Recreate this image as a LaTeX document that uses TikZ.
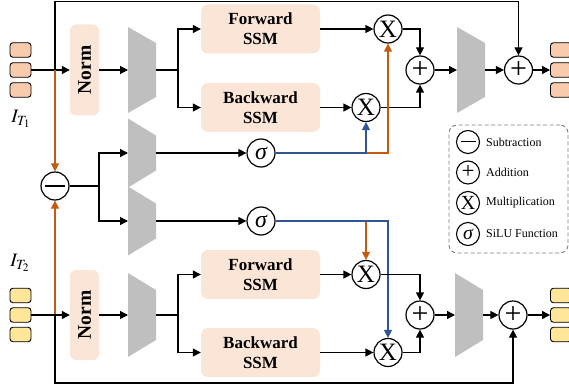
\documentclass[tikz,border=0pt]{standalone}
\usepackage{mathptmx}
\usepackage{fontspec}
\setmainfont{Liberation Serif}
\usetikzlibrary{arrows.meta}
\definecolor{peach}{HTML}{FBE5D6}
\definecolor{sqA}{HTML}{F8CBAD}
\definecolor{sqB}{HTML}{FFE699}
\definecolor{trapgray}{HTML}{BFBFBF}
\definecolor{orng}{HTML}{C55A11}
\definecolor{blu}{HTML}{2F5597}
\definecolor{lgray}{HTML}{7F7F7F}
\begin{document}
\begin{tikzpicture}[x=1pt,y=-1pt,
  ln/.style={line width=1.2pt, draw=black},
  arr/.style={ln, -{Triangle[length=8pt,width=8pt]}},
  oarr/.style={arr, draw=orng},
  barr/.style={arr, draw=blu},
  sq/.style={draw, line width=0.9pt, rounded corners=3pt, minimum width=21pt, minimum height=14.5pt, inner sep=0pt},
  ssm/.style={fill=peach, rounded corners=7pt, minimum width=119pt, minimum height=49pt, align=center, inner sep=0pt, font=\fontsize{17}{20}\selectfont\bfseries},
  normb/.style={fill=peach, rounded corners=6pt, minimum width=29pt, minimum height=#1, inner sep=0pt, font=\fontsize{19.5}{20}\selectfont\bfseries},
  op/.style={circle, draw, line width=1.2pt, minimum size=28pt, inner sep=0pt},
  mul/.style={op, font=\fontsize{25}{25}\selectfont},
  add/.style={op, font=\fontsize{30}{30}\selectfont},
  sig/.style={op, font=\fontsize{24}{24}\selectfont\itshape},
  lop/.style={circle, draw, line width=1.1pt, minimum size=23pt, inner sep=0pt},
  ltxt/.style={anchor=west, inner sep=0pt, font=\fontsize{12}{12}\selectfont},
  trap/.style 2 args={minimum width=28pt, minimum height=#1, inner sep=0pt, outer sep=0pt,
    path picture={\fill[trapgray] (path picture bounding box.north west) -- ([yshift=-#2]path picture bounding box.north east) -- ([yshift=#2]path picture bounding box.south east) -- (path picture bounding box.south west) -- cycle;}}
]
\useasboundingbox (0,0) rectangle (569,390);

% ---------- top branch ----------
\node[sq, fill=sqA] (a1) at (20.5,50) {};
\node[sq, fill=sqA] (a2) at (20.5,70) {};
\node[sq, fill=sqA] (a3) at (20.5,90) {};
\node (l1) at (21,119) {\fontsize{19}{19}\selectfont$I_{T_1}$};
\node[normb=91pt] (n1) at (84.5,70) {\rotatebox{90}{Norm}};
\coordinate (j1) at (55,70);
\coordinate (top1) at (55,1.6);
\node[trap={86pt}{16pt}] (t1) at (142,70) {};
\coordinate (s1) at (178,70);
\node[ssm] (f1) at (260.5,29) {Forward\\SSM};
\node[ssm] (b1) at (260.5,107.5) {Backward\\SSM};
\node[mul] (x1) at (388,29) {X};
\node[mul] (x2) at (366,107.5) {X};
\node[add] (p1) at (420,70) {+};
\node[trap={86pt}{16pt}] (t2) at (471,70) {};
\node[add] (p2) at (518.5,70) {+};
\node[sq, fill=sqA] (c1) at (561,50) {};
\node[sq, fill=sqA] (c2) at (561,70) {};
\node[sq, fill=sqA] (c3) at (561,90) {};

% ---------- middle ----------
\node[op] (sb) at (55,186) {\rule{20pt}{1.1pt}};
\coordinate (s2) at (99,186);
\node[trap={69pt}{17pt}] (t3) at (142,153) {};
\node[trap={69pt}{17pt}] (t4) at (142,221) {};
\node[sig] (g1) at (261,153) {σ};
\node[sig] (g2) at (261,221) {σ};

% ---------- bottom branch ----------
\node[sq, fill=sqB] (d1) at (20.5,295.5) {};
\node[sq, fill=sqB] (d2) at (20.5,315) {};
\node[sq, fill=sqB] (d3) at (20.5,334.5) {};
\node (l2) at (20,263) {\fontsize{19}{19}\selectfont$I_{T_2}$};
\node[normb=90pt] (n2) at (84.5,315) {\rotatebox{90}{Norm}};
\coordinate (j2) at (55,315);
\coordinate (bot) at (55,383);
\node[trap={84pt}{17pt}] (t5) at (142,315) {};
\coordinate (s3) at (178,315);
\node[ssm] (f2) at (260.5,274.5) {Forward\\SSM};
\node[ssm] (b2) at (260.5,352.5) {Backward\\SSM};
\node[mul] (x3) at (366,274.5) {X};
\node[mul] (x4) at (388,352.5) {X};
\node[add] (p3) at (420,315) {+};
\node[trap={84pt}{17pt}] (t6) at (469,315) {};
\node[add] (p4) at (513,315) {+};
\node[sq, fill=sqB] (e1) at (561,295.5) {};
\node[sq, fill=sqB] (e2) at (561,315) {};
\node[sq, fill=sqB] (e3) at (561,334.5) {};

% ---------- legend ----------
\node[draw=lgray, line width=0.9pt, dash pattern=on 4pt off 2.5pt, rounded corners=8pt, minimum width=119pt, minimum height=128pt] (lg) at (508.5,189) {};
\node[lop] (k1) at (468,142) {\rule{15pt}{1pt}};
\node[ltxt] (k1t) at (486,142) {Subtraction};
\node[lop, font=\fontsize{23}{23}\selectfont] (k2) at (468,172.5) {+};
\node[ltxt] (k2t) at (486,172.5) {Addition};
\node[lop, font=\fontsize{20}{20}\selectfont] (k3) at (468,203) {X};
\node[ltxt] (k3t) at (486,203) {Multiplication};
\node[lop, font=\fontsize{20}{20}\selectfont\itshape] (k4) at (468,234) {σ};
\node[ltxt] (k4t) at (486,234) {SiLU Function};

% ---------- connectors: top ----------
\draw[arr] (a2.east) -- (n1.west);
\draw[arr] (j1) -- (top1) -| (p2.north);
\draw[arr] (n1.east) -- (t1.west);
\draw[ln] (t1.east) -- (s1);
\draw[arr] (s1) |- (f1.west);
\draw[arr] (s1) |- (b1.west);
\draw[arr] (f1.east) -- (x1.west);
\draw[arr] (b1.east) -- (x2.west);
\draw[arr] (x1.east) -| (p1.north);
\draw[arr] (x2.east) -| (p1.south);
\draw[arr] (p1.east) -- (t2.west);
\draw[arr] (t2.east) -- (p2.west);
\draw[arr] (p2.east) -- (c2.west);

% ---------- connectors: middle ----------
\draw[oarr] (j1) -- (sb.north);
\draw[oarr] (j2) -- (sb.south);
\draw[ln] (sb.east) -- (s2);
\draw[arr] (s2) |- (t3.west);
\draw[arr] (s2) |- (t4.west);
\draw[arr] (t3.east) -- (g1.west);
\draw[arr] (t4.east) -- (g2.west);
\draw[oarr] (g1.east) -| (x1.south);
\draw[barr] (g1.east) -| (x2.south);
\draw[oarr] (g2.east) -| (x3.north);
\draw[barr] (g2.east) -| (x4.north);

% ---------- connectors: bottom ----------
\draw[arr] (d2.east) -- (n2.west);
\draw[arr] (j2) -- (bot) -| (p4.south);
\draw[arr] (n2.east) -- (t5.west);
\draw[ln] (t5.east) -- (s3);
\draw[arr] (s3) |- (f2.west);
\draw[arr] (s3) |- (b2.west);
\draw[arr] (f2.east) -- (x3.west);
\draw[arr] (b2.east) -- (x4.west);
\draw[arr] (x3.east) -| (p3.north);
\draw[arr] (x4.east) -| (p3.south);
\draw[arr] (p3.east) -- (t6.west);
\draw[arr] (t6.east) -- (p4.west);
\draw[arr] (p4.east) -- (e2.west);
\end{tikzpicture}
\end{document}
